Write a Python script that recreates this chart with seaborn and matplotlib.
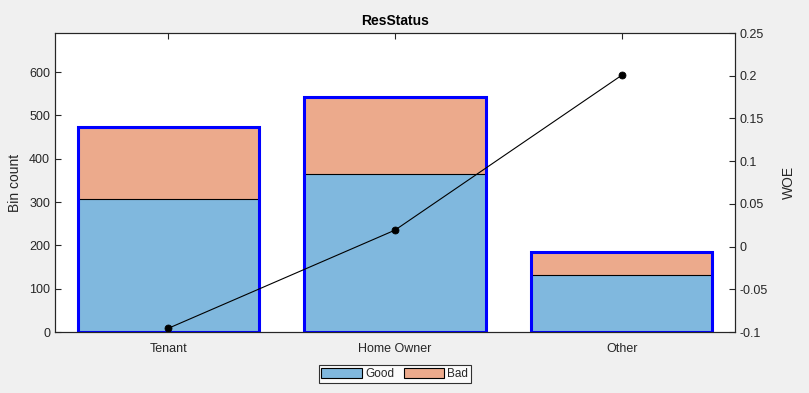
import matplotlib as mpl
mpl.use('Agg')
import matplotlib.pyplot as plt
from matplotlib import ticker
from matplotlib.patches import Patch
import seaborn as sns
import pandas as pd

# data
categories = ['Tenant', 'Home Owner', 'Other']
good = [307, 365, 131]
bad = [167, 177, 53]
woe = [-0.095564, 0.019329, 0.20049]

GOOD_COLOR = '#80B8DE'
BAD_COLOR = '#ECAA8C'
TEXT = '#262626'

sns.set_style('white')
plt.rcParams['font.family'] = ['Liberation Sans', 'DejaVu Sans']

df = pd.DataFrame({'cat': categories, 'good': good, 'bad': bad, 'woe': woe})
df['total'] = df['good'] + df['bad']

fig = plt.figure(figsize=(8.09, 3.93), dpi=100, facecolor='#F0F0F0')
ax = fig.add_axes([0.068, 0.155, 0.8405, 0.761])

# stacked bars: total (bad on top), then good over it, then blue outline
sns.barplot(data=df, x='cat', y='total', color=BAD_COLOR, saturation=1,
            edgecolor='black', linewidth=0.8, width=0.8, ax=ax)
sns.barplot(data=df, x='cat', y='good', color=GOOD_COLOR, saturation=1,
            edgecolor='black', linewidth=0.8, width=0.8, ax=ax)
sns.barplot(data=df, x='cat', y='total', color='blue', fill=False,
            linewidth=2.2, width=0.8, ax=ax)

ax.set_xlim(-0.5, 2.5)
ax.set_ylim(0, 690)
ax.set_yticks(range(0, 700, 100))
ax.set_xlabel('')
ax.set_ylabel('Bin count', fontsize=10, color=TEXT, labelpad=5)
ax.set_title('ResStatus', fontsize=10, fontweight='bold', color='black', pad=6)

ax2 = ax.twinx()
sns.pointplot(data=df, x='cat', y='woe', color='black', markers='o',
              linewidth=0.8, markersize=5, ax=ax2)
ax2.set_xlim(-0.5, 2.5)
ax2.set_ylim(-0.1, 0.25)
ax2.set_yticks([-0.1, -0.05, 0, 0.05, 0.1, 0.15, 0.2, 0.25])
ax2.yaxis.set_major_formatter(ticker.FuncFormatter(lambda v, p: '%g' % round(v, 3)))
ax2.set_ylabel('WOE', fontsize=10, color=TEXT, labelpad=10)
ax2.set_xlabel('')

for a in (ax, ax2):
    a.set_facecolor('none')
    for s in a.spines.values():
        s.set_visible(True)
        s.set_color(TEXT)
        s.set_linewidth(0.8)
    a.tick_params(direction='in', length=4, width=0.8, labelsize=9,
                  colors=TEXT, top=True)
ax.tick_params(axis='x', pad=8)
ax.set_facecolor('white')
ax.set_zorder(0)
ax2.set_zorder(1)

handles = [Patch(facecolor=GOOD_COLOR, edgecolor='black', linewidth=0.8),
           Patch(facecolor=BAD_COLOR, edgecolor='black', linewidth=0.8)]
leg = fig.legend(handles, ['Good', 'Bad'], loc='center', bbox_to_anchor=(0.488, 0.048),
                 ncol=2, fontsize=8.5, frameon=True, fancybox=False,
                 handlelength=3.4, handleheight=0.9, handletextpad=0.3,
                 columnspacing=0.8, borderpad=0.25, borderaxespad=0)
leg.get_frame().set_edgecolor('black')
leg.get_frame().set_linewidth(0.8)

fig.savefig('out.png', dpi=100, facecolor=fig.get_facecolor())
